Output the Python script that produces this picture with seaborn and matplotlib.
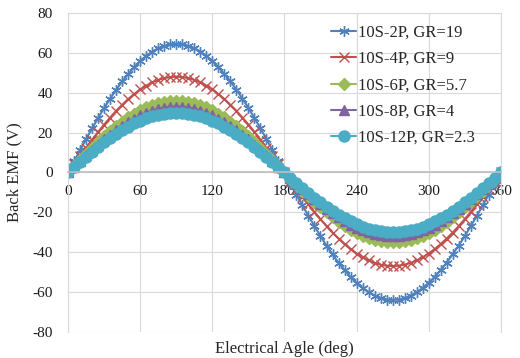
import numpy as np
import pandas as pd
import seaborn as sns
import matplotlib
matplotlib.use("Agg")
import matplotlib.pyplot as plt

sns.set_theme(style="white")
plt.rcParams['font.family'] = ['Liberation Serif', 'DejaVu Serif']
plt.rcParams['axes.unicode_minus'] = False

angle = list(range(0, 365, 5))

labels = ["10S-2P, GR=19", "10S-4P, GR=9", "10S-6P, GR=5.7",
          "10S-8P, GR=4", "10S-12P, GR=2.3"]

emf_2p = [0, 5.6, 11.2, 16.7, 22.1, 27.3, 32.3, 37.0, 41.5, 45.6, 49.4, 52.8, 55.9, 58.5, 60.6, 62.3, 63.5, 64.3, 64.5,
          64.3, 63.5, 62.3, 60.6, 58.5, 55.9, 52.8, 49.4, 45.6, 41.5, 37.0, 32.3, 27.3, 22.1, 16.7, 11.2, 5.6, 0,
          -5.6, -11.1, -16.6, -21.9, -27.0, -32.0, -36.7, -41.1, -45.3, -49.0, -52.4, -55.4, -58.0, -60.1, -61.8, -63.0, -63.8, -64.0,
          -63.8, -63.0, -61.8, -60.1, -58.0, -55.4, -52.4, -49.0, -45.3, -41.1, -36.7, -32.0, -27.0, -21.9, -16.6, -11.1, -5.6, 0]
emf_4p = [0, 4.2, 8.3, 12.4, 16.4, 20.3, 24.0, 27.5, 30.9, 33.9, 36.8, 39.3, 41.6, 43.5, 45.1, 46.4, 47.3, 47.8, 48.0,
          47.8, 47.3, 46.4, 45.1, 43.5, 41.6, 39.3, 36.8, 33.9, 30.9, 27.5, 24.0, 20.3, 16.4, 12.4, 8.3, 4.2, 0,
          -4.1, -8.2, -12.2, -16.1, -19.9, -23.5, -27.0, -30.2, -33.2, -36.0, -38.5, -40.7, -42.6, -44.2, -45.4, -46.3, -46.8, -47.0,
          -46.8, -46.3, -45.4, -44.2, -42.6, -40.7, -38.5, -36.0, -33.2, -30.2, -27.0, -23.5, -19.9, -16.1, -12.2, -8.2, -4.1, 0]
emf_6p = [0, 3.1, 6.3, 9.3, 12.3, 15.2, 18.0, 20.6, 23.1, 25.5, 27.6, 29.5, 31.2, 32.6, 33.8, 34.8, 35.5, 35.9, 36.0,
          35.9, 35.5, 34.8, 33.8, 32.6, 31.2, 29.5, 27.6, 25.5, 23.1, 20.6, 18.0, 15.2, 12.3, 9.3, 6.3, 3.1, 0,
          -3.1, -6.1, -9.1, -12.0, -14.8, -17.5, -20.1, -22.5, -24.7, -26.8, -28.7, -30.3, -31.7, -32.9, -33.8, -34.5, -34.9, -35.0,
          -34.9, -34.5, -33.8, -32.9, -31.7, -30.3, -28.7, -26.8, -24.7, -22.5, -20.1, -17.5, -14.8, -12.0, -9.1, -6.1, -3.1, 0]
emf_8p = [0, 2.9, 5.7, 8.5, 11.3, 13.9, 16.5, 18.9, 21.2, 23.3, 25.3, 27.0, 28.6, 29.9, 31.0, 31.9, 32.5, 32.9, 33.0,
          32.9, 32.5, 31.9, 31.0, 29.9, 28.6, 27.0, 25.3, 23.3, 21.2, 18.9, 16.5, 13.9, 11.3, 8.5, 5.7, 2.9, 0,
          -2.8, -5.6, -8.3, -10.9, -13.5, -16.0, -18.4, -20.6, -22.6, -24.5, -26.2, -27.7, -29.0, -30.1, -30.9, -31.5, -31.9, -32.0,
          -31.9, -31.5, -30.9, -30.1, -29.0, -27.7, -26.2, -24.5, -22.6, -20.6, -18.4, -16.0, -13.5, -10.9, -8.3, -5.6, -2.8, 0]
emf_12p = [0, 2.6, 5.2, 7.8, 10.3, 12.7, 15.0, 17.2, 19.3, 21.2, 23.0, 24.6, 26.0, 27.2, 28.2, 29.0, 29.5, 29.9, 30.0,
           29.9, 29.5, 29.0, 28.2, 27.2, 26.0, 24.6, 23.0, 21.2, 19.3, 17.2, 15.0, 12.7, 10.3, 7.8, 5.2, 2.6, 0,
           -2.6, -5.2, -7.8, -10.3, -12.7, -15.0, -17.2, -19.3, -21.2, -23.0, -24.6, -26.0, -27.2, -28.2, -29.0, -29.5, -29.9, -30.0,
           -29.9, -29.5, -29.0, -28.2, -27.2, -26.0, -24.6, -23.0, -21.2, -19.3, -17.2, -15.0, -12.7, -10.3, -7.8, -5.2, -2.6, 0]

colors = ["#4F81BD", "#C0504D", "#9BBB59", "#8064A2", "#4BACC6"]
markers = [(6, 2, 0), "x", "D", "^", "o"]
msizes = [7.5, 7.5, 6, 7, 8]

series = [emf_2p, emf_4p, emf_6p, emf_8p, emf_12p]
df = pd.concat([pd.DataFrame({"angle": angle, "emf": s, "config": lab})
                for s, lab in zip(series, labels)])

fig = plt.figure(figsize=(5.2, 3.58), dpi=100)
ax = fig.add_axes([0.131, 0.073, 0.832, 0.891])

for lab, col, mk, ms in zip(labels, colors, markers, msizes):
    sns.lineplot(data=df[df.config == lab], x="angle", y="emf", ax=ax,
                 color=col, marker=mk, markersize=ms, linewidth=1.5,
                 markeredgecolor=col, markeredgewidth=1.0, label=lab)

ax.set_xlim(0, 360)
ax.set_ylim(-80, 80)
ax.set_xticks(range(0, 361, 60))
ax.set_yticks(range(-80, 81, 20))
ax.grid(True, color="#D9D9D9", linewidth=0.8)
ax.set_axisbelow(True)

for sp in ["left", "right", "top"]:
    ax.spines[sp].set_color("#D9D9D9")
    ax.spines[sp].set_linewidth(0.8)
ax.spines["bottom"].set_position(("data", 0))
ax.spines["bottom"].set_color("#BFBFBF")
ax.tick_params(axis="both", length=0, labelsize=11, colors="#1a1a1a")
ax.tick_params(axis="x", pad=9)
ax.tick_params(axis="y", pad=11)

ax.set_xlabel("Electrical Agle (deg)", fontsize=12)
ax.set_ylabel("Back EMF (V)", fontsize=12)
ax.xaxis.set_label_coords(0.5, -0.03)
ax.yaxis.set_label_coords(-0.106, 0.5)

ax.legend(loc="upper right", bbox_to_anchor=(0.975, 1.01), frameon=False,
          fontsize=12, labelspacing=0.62, handlelength=1.5, handletextpad=0.1)

fig.savefig("out.png", dpi=100)
